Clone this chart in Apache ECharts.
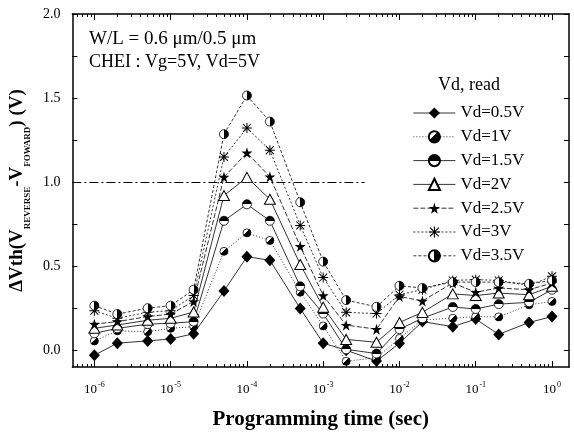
<!DOCTYPE html>
<html>
<head>
<meta charset="utf-8">
<script src="https://cdn.jsdelivr.net/npm/echarts@6/dist/echarts.min.js"></script>
<style>
  html, body { margin: 0; padding: 0; background: #fff; }
  #chart { width: 574px; height: 435px; }
</style>
</head>
<body>
<div id="chart"></div>
<script>
// Programming times (s)
const times = [1e-6, 2e-6, 5e-6, 1e-5, 2e-5, 5e-5, 1e-4, 2e-4, 5e-4, 1e-3, 2e-3, 5e-3, 1e-2, 2e-2, 5e-2, 1e-1, 2e-1, 5e-1, 1];

// Threshold shift dVth (V) for each read drain voltage
const vd05 = [-0.03, 0.042, 0.055, 0.067, 0.098, 0.352, 0.556, 0.535, 0.248, 0.042, 0.0, -0.065, 0.042, 0.17, 0.14, 0.185, 0.094, 0.165, 0.2];
const vd1  = [0.055, 0.115, 0.11, 0.13, 0.14, 0.588, 0.698, 0.653, 0.345, 0.144, -0.066, -0.045, 0.07, 0.18, 0.19, 0.2, 0.198, 0.27, 0.29];
const vd15 = [0.10, 0.13, 0.155, 0.16, 0.17, 0.77, 0.868, 0.77, 0.38, 0.218, 0.005, -0.02, 0.125, 0.19, 0.257, 0.245, 0.274, 0.285, 0.36];
const vd2  = [0.13, 0.15, 0.178, 0.19, 0.227, 0.92, 1.028, 0.898, 0.51, 0.256, 0.064, 0.047, 0.165, 0.225, 0.335, 0.325, 0.34, 0.33, 0.38];
const vd25 = [0.155, 0.17, 0.2, 0.215, 0.29, 1.03, 1.174, 1.032, 0.618, 0.325, 0.149, 0.125, 0.32, 0.293, 0.40, 0.345, 0.37, 0.36, 0.40];
const vd3  = [0.235, 0.19, 0.226, 0.235, 0.325, 1.15, 1.322, 1.19, 0.742, 0.432, 0.225, 0.218, 0.33, 0.36, 0.415, 0.42, 0.415, 0.385, 0.44];
const vd35 = [0.265, 0.215, 0.25, 0.265, 0.36, 1.285, 1.515, 1.36, 0.88, 0.527, 0.298, 0.258, 0.383, 0.37, 0.405, 0.405, 0.405, 0.395, 0.415];

const seriesNames = ['Vd=0.5V', 'Vd=1V', 'Vd=1.5V', 'Vd=2V', 'Vd=2.5V', 'Vd=3V', 'Vd=3.5V'];
const seriesValues = [vd05, vd1, vd15, vd2, vd25, vd3, vd35];

// Axis ticks and labels
const xMajorTicks = [1e-6, 1e-5, 1e-4, 1e-3, 1e-2, 1e-1, 1];
const xLabelExponents = ['-6', '-5', '-4', '-3', '-2', '-1', '0'];
const yTickValues = [0, 0.25, 0.5, 0.75, 1.0, 1.25, 1.5, 1.75, 2.0];
const yLabelValues = [0, 0.5, 1.0, 1.5, 2.0];

// Reference level and its extent
const refLevel = 1.0;
const refLineEnd = 3.5e-3;

const X_MIN = 5.15e-7, X_MAX = 1.67, Y_MIN = -0.1, Y_MAX = 2.0;

const xMinorTicks = [];
xMajorTicks.forEach(function (d) {
  for (let k = 2; k <= 9; k++) { const v = d * k; if (v <= X_MAX) xMinorTicks.push(v); }
});
[6e-7, 7e-7, 8e-7, 9e-7].forEach(function (v) { xMinorTicks.push(v); });

const SERIF = "'Liberation Serif', 'Times New Roman', serif";

function halfFill(x, y, x2, y2, edge) {
  return new echarts.graphic.LinearGradient(x, y, x2, y2, [
    { offset: 0, color: '#ffffff' }, { offset: edge, color: '#ffffff' },
    { offset: edge, color: '#000000' }, { offset: 1, color: '#000000' }
  ]);
}

const starPath = 'path://M50,0 L61,35 L98,35 L68,57 L79,91 L50,70 L21,91 L32,57 L2,35 L39,35 Z';
const asteriskPath = 'path://M45,0 L55,0 L55,100 L45,100 Z M0,45 L100,45 L100,55 L0,55 Z M14,7 L93,86 L86,93 L7,14 Z M86,7 L93,14 L14,93 L7,86 Z';

const markerStyles = [
  { symbol: 'diamond', size: [11, 12], item: { color: '#000' }, dash: 'solid' },
  { symbol: 'circle', size: 8, item: { color: halfFill(0, 0, 1, 1, 0.45), borderColor: '#000', borderWidth: 0.8 }, dash: [1, 2] },
  { symbol: 'circle', size: 9, item: { color: halfFill(0, 1, 0, 0, 0.5), borderColor: '#000', borderWidth: 0.8 }, dash: 'solid' },
  { symbol: 'triangle', size: [11, 10], item: { color: '#fff', borderColor: '#000', borderWidth: 1 }, dash: 'solid' },
  { symbol: starPath, size: 11, item: { color: '#000' }, dash: [5, 2] },
  { symbol: asteriskPath, size: 10, item: { color: '#000' }, dash: [2, 2] },
  { symbol: 'circle', size: 9, item: { color: halfFill(0, 0, 1, 0, 0.5), borderColor: '#000', borderWidth: 0.8 }, dash: [3, 2] }
];

const series = seriesNames.map(function (name, i) {
  const st = markerStyles[i];
  const s = {
    name: name,
    type: 'line',
    xAxisIndex: 0,
    yAxisIndex: 0,
    data: times.map(function (t, j) { return [t, seriesValues[i][j]]; }),
    symbol: st.symbol,
    symbolSize: st.size,
    showAllSymbol: true,
    itemStyle: st.item,
    lineStyle: { color: '#000', width: 0.8, type: st.dash },
    emphasis: { disabled: true },
    animation: false,
    z: 3 + i
  };
  if (i === 0) {
    s.markLine = {
      silent: true,
      symbol: ['none', 'none'],
      label: { show: false },
      lineStyle: { color: '#000', width: 1.2, type: [9, 3, 2, 3] },
      data: [[{ coord: [X_MIN, refLevel] }, { coord: [refLineEnd, refLevel] }]],
      animation: false
    };
  }
  return s;
});

function xAxisDef(position, ticks, len, showLine, showLabels) {
  return {
    type: 'log',
    logBase: 10,
    min: X_MIN,
    max: X_MAX,
    position: position,
    gridIndex: 0,
    axisLine: { show: showLine, onZero: false, lineStyle: { color: '#000', width: 1.5 } },
    axisTick: { show: true, inside: true, length: len, customValues: ticks, lineStyle: { color: '#000', width: 1 } },
    axisLabel: showLabels ? {
      show: true,
      customValues: xMajorTicks,
      margin: 14,
      formatter: function (v) {
        const idx = xMajorTicks.findIndex(function (m) { return Math.abs(Math.log10(m) - Math.log10(v)) < 1e-6; });
        return '{b|10}{s|' + (idx >= 0 ? xLabelExponents[idx] : '') + '}';
      },
      rich: {
        b: { fontFamily: SERIF, fontSize: 13, color: '#000', verticalAlign: 'bottom' },
        s: { fontFamily: SERIF, fontSize: 8, color: '#000', verticalAlign: 'bottom', padding: [0, 0, 7, 1] }
      }
    } : { show: false },
    splitLine: { show: false },
    minorTick: { show: false }
  };
}

function yAxisDef(position, showLabels) {
  const ax = {
    type: 'value',
    min: Y_MIN,
    max: Y_MAX,
    position: position,
    axisLine: { show: true, onZero: false, lineStyle: { color: '#000', width: 1.5 } },
    axisTick: { show: true, inside: true, length: 5, customValues: yTickValues, lineStyle: { color: '#000', width: 1 } },
    axisLabel: showLabels ? {
      show: true,
      customValues: yLabelValues,
      margin: 12,
      fontFamily: SERIF,
      fontSize: 14,
      color: '#000',
      formatter: function (v) { return v.toFixed(1); }
    } : { show: false },
    splitLine: { show: false }
  };
  if (showLabels) {
    ax.name = '{a|ΔVth(V}{s|REVERSE}{a|-V}{s|FOWARD}{a|) (V)}';
    ax.nameLocation = 'middle';
    ax.nameRotate = 90;
    ax.nameGap = 34;
    ax.nameTextStyle = {
      rich: {
        a: { fontFamily: SERIF, fontWeight: 'bold', fontSize: 19, color: '#000', verticalAlign: 'bottom', padding: [0, 0, 5, 0] },
        s: { fontFamily: SERIF, fontWeight: 'bold', fontSize: 9, color: '#000', verticalAlign: 'bottom' }
      }
    };
  }
  return ax;
}

const xMain = xAxisDef('bottom', xMajorTicks, 6, true, true);
xMain.name = 'Programming time (sec)';
xMain.nameLocation = 'middle';
xMain.nameGap = 42;
xMain.nameTextStyle = { fontFamily: SERIF, fontWeight: 'bold', fontSize: 21, color: '#000' };

const option = {
  backgroundColor: '#fff',
  animation: false,
  grid: { left: 72, right: 5, top: 14, bottom: 62, containLabel: false },
  xAxis: [
    xMain,
    xAxisDef('bottom', xMinorTicks, 3, false, false),
    xAxisDef('top', xMajorTicks, 6, true, false),
    xAxisDef('top', xMinorTicks, 3, false, false)
  ],
  yAxis: [yAxisDef('left', true), yAxisDef('right', false)],
  legend: {
    show: true,
    orient: 'vertical',
    left: 408,
    top: 99,
    itemWidth: 42,
    itemHeight: 14,
    itemGap: 5.8,
    selectedMode: false,
    data: seriesNames,
    lineStyle: { width: 0.8 },
    textStyle: { fontFamily: SERIF, fontSize: 17, color: '#000', lineHeight: 18 }
  },
  graphic: [
    { type: 'text', left: 89, top: 30, style: { text: 'W/L = 0.6 μm/0.5 μm', font: '19px ' + SERIF, fill: '#000' } },
    { type: 'text', left: 89, top: 53, style: { text: 'CHEI : Vg=5V, Vd=5V', font: '18px ' + SERIF, fill: '#000' } },
    { type: 'text', left: 438, top: 76, style: { text: 'Vd, read', font: '18px ' + SERIF, fill: '#000' } }
  ],
  series: series
};

const chart = echarts.init(document.getElementById('chart'), null, { renderer: 'canvas' });
chart.setOption(option);
</script>
</body>
</html>
